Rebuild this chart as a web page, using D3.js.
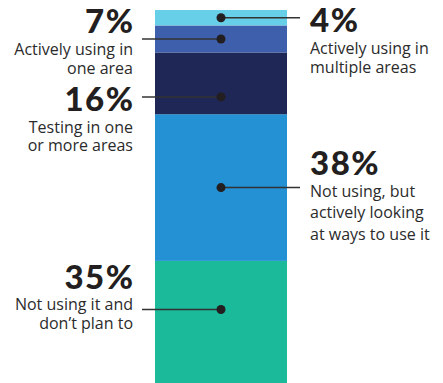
<!DOCTYPE html>
<html>
<head>
<meta charset="utf-8">
<script src="https://cdn.jsdelivr.net/npm/d3@7"></script>
<style>
  html, body { margin: 0; padding: 0; background: #fff; }
  svg { display: block; }
</style>
</head>
<body>
<svg id="chart" width="443" height="383"></svg>
<script>
// ---- data (bottom to top) ----
const categories = [
  "Not using it and don't plan to",
  "Not using, but actively looking at ways to use it",
  "Testing in one or more areas",
  "Actively using in one area",
  "Actively using in multiple areas"
];
const values = [35, 38, 16, 7, 4];
const labelLines = [
  ["Not using it and", "don\u2019t plan to"],
  ["Not using, but", "actively looking", "at ways to use it"],
  ["Testing in one", "or more areas"],
  ["Actively using in", "one area"],
  ["Actively using in", "multiple areas"]
];
const colors = ["#1bba9b", "#2391d3", "#1f2757", "#3e5fac", "#68cfe8"];

// ---- layout ----
const side = ["left", "right", "left", "left", "right"];
const dotFrac = [0.36, 0.5, 0.72, 0.5, 0.5];   // dot position within segment, from its top
const pctBaseline = [288.5, 175, 111, 33, 32];
const lineGap = [19, 21.5, 18.5, 19, 19];

const svg = d3.select("#chart");
const y = d3.scaleLinear().domain([0, 100]).range([396, 10]);
const x = d3.scaleBand().domain(["all"]).range([155, 287]).padding(0);

let cum = 0;
const segs = values.map((v, i) => {
  const s = { i, v, y0: cum, y1: cum + v };
  cum += v;
  return s;
});

svg.selectAll("rect.seg").data(segs).join("rect")
  .attr("class", "seg")
  .attr("x", x("all"))
  .attr("width", x.bandwidth())
  .attr("y", d => y(d.y1))
  .attr("height", d => y(d.y0) - y(d.y1))
  .attr("fill", d => colors[d.i]);

const cx = x("all") + x.bandwidth() / 2;
const dotY = d => y(d.y1) + (y(d.y0) - y(d.y1)) * dotFrac[d.i];

svg.selectAll("line.lead").data(segs).join("line")
  .attr("class", "lead")
  .attr("x1", cx)
  .attr("x2", d => side[d.i] === "left" ? 142 : 300)
  .attr("y1", dotY).attr("y2", dotY)
  .attr("stroke", "#333").attr("stroke-width", 1.5);

svg.selectAll("circle.dot").data(segs).join("circle")
  .attr("class", "dot")
  .attr("cx", cx).attr("cy", dotY).attr("r", 4.5)
  .attr("fill", "#231f20");

const labels = svg.selectAll("text.lab").data(segs).join("text")
  .attr("class", "lab")
  .attr("font-family", "'Open Sans', Roboto, sans-serif")
  .attr("fill", "#2b2b2b");
labels.each(function(d) {
  const t = d3.select(this);
  const left = side[d.i] === "left";
  const tx = left ? 133 : 310;
  const anchor = left ? "end" : "start";
  t.attr("text-anchor", anchor);
  t.append("tspan")
    .attr("x", left ? tx + 1.5 : tx).attr("y", pctBaseline[d.i])
    .attr("font-family", "Lato, 'Open Sans', sans-serif")
    .attr("font-weight", 900)
    .attr("font-size", 33)
    .attr("letter-spacing", 1.5)
    .attr("fill", "#231f20")
    .text(d.v + "%");
  labelLines[d.i].forEach((ln, k) => {
    t.append("tspan")
      .attr("x", tx).attr("y", pctBaseline[d.i] + 21.5 + k * lineGap[d.i])
      .attr("font-size", 16)
      .text(ln);
  });
});
</script>
</body>
</html>
